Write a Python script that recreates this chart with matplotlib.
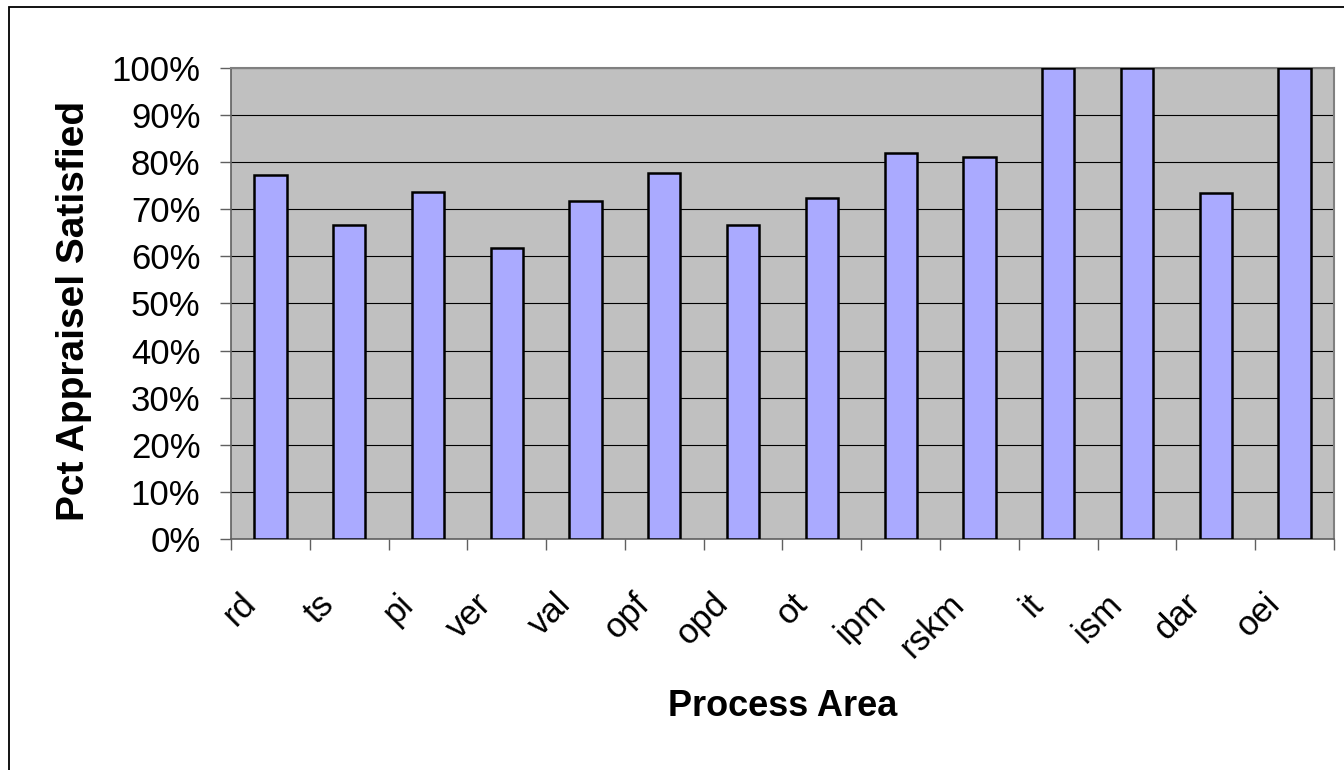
import matplotlib
matplotlib.use("Agg")
import matplotlib.pyplot as plt
from matplotlib.patches import Rectangle
from matplotlib.ticker import FixedLocator, PercentFormatter
import matplotlib.transforms as mtransforms
import numpy as np

categories = ["rd", "ts", "pi", "ver", "val", "opf", "opd", "ot", "ipm", "rskm", "it", "ism", "dar", "oei"]
values = [77.2, 66.7, 73.6, 61.8, 71.7, 77.8, 66.7, 72.3, 82.0, 81.0, 100.0, 100.0, 73.5, 100.0]
y_ticks = [0, 10, 20, 30, 40, 50, 60, 70, 80, 90, 100]

plt.rcParams['font.family'] = ['Liberation Sans', 'DejaVu Sans']

W, H = 1344, 770
fig = plt.figure(figsize=(W / 100, H / 100), dpi=100)
fig.patch.set_facecolor("white")

# outer chart border
fig.patches.append(Rectangle((9 / W, -0.1), 1.2, 1 - 7 / H + 0.1, transform=fig.transFigure,
                             fill=False, edgecolor="black", linewidth=1.3, zorder=0))

ax = fig.add_axes([231 / W, 1 - 539 / H, (1334 - 231) / W, (539 - 68) / H])
ax.set_facecolor("#C0C0C0")

x = np.arange(len(categories))
ax.bar(x, values, width=0.41, color="#AAAAFF", edgecolor="black", linewidth=1.8, zorder=3)

ax.set_xlim(-0.5, len(categories) - 0.5)
ax.set_ylim(0, 100)
ax.yaxis.set_major_locator(FixedLocator(y_ticks))
ax.yaxis.set_major_formatter(PercentFormatter(decimals=0))
ax.grid(axis="y", color="black", linewidth=0.8, zorder=1)
ax.set_axisbelow(True)

ax.set_xticks(x)
ax.set_xticklabels(categories, rotation=45, ha="right", va="center", rotation_mode="anchor", fontsize=25)
ax.set_xticks(np.arange(-0.5, len(categories), 1.0), minor=True)
ax.tick_params(axis="x", which="major", length=0, pad=43)
ax.tick_params(axis="x", which="minor", length=8, width=1, color="#606060", direction="out")
ax.tick_params(axis="y", which="major", length=8, width=1, color="#606060", direction="out",
               labelsize=25, pad=14)

offset = mtransforms.ScaledTranslation(-20 / 100, 0, fig.dpi_scale_trans)
for lbl in ax.get_xticklabels():
    lbl.set_transform(lbl.get_transform() + offset)

for side in ["top", "right"]:
    ax.spines[side].set_color("#808080")
    ax.spines[side].set_linewidth(1.5)
for side in ["left", "bottom"]:
    ax.spines[side].set_color("#606060")
    ax.spines[side].set_linewidth(1.2)

fig.text(74 / W, 1 - 311 / H, "Pct Appraisel Satisfied", rotation=90, ha="center", va="center",
         fontsize=28, fontweight="bold")
fig.text(783 / W, 1 - 706 / H, "Process Area", ha="center", va="center",
         fontsize=26, fontweight="bold")

fig.savefig("out.png", dpi=100)
